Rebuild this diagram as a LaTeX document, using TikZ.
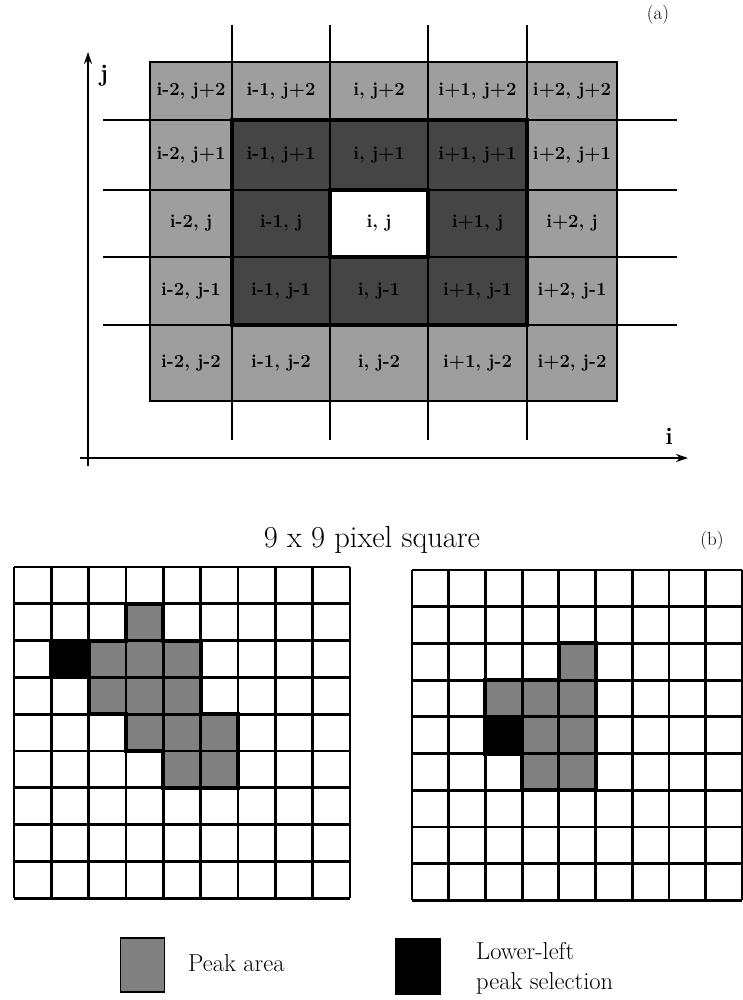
\documentclass[tikz,border=0pt]{standalone}
\usetikzlibrary{arrows.meta}
\definecolor{lightshade}{gray}{0.62}
\definecolor{darkshade}{gray}{0.27}
\definecolor{peakshade}{gray}{0.50}
\begin{document}
\begin{tikzpicture}[x=1pt,y=-1pt,
  agrid/.style={line width=2.4pt},
  bgrid/.style={line width=2.8pt},
  outline/.style={line width=4pt,line join=miter},
  axis/.style={line width=1.4pt,-{Stealth[length=12pt,width=8pt]}},
  celltext/.style={font=\fontsize{18.5}{18.5}\selectfont\bfseries,inner sep=0pt},
  title/.style={font=\fontsize{30.5}{36}\selectfont},
  tag/.style={font=\fontsize{19}{22}\selectfont},
  legendtext/.style={font=\fontsize{24.5}{30}\selectfont,align=left,inner sep=0pt},
  axlabel/.style={font=\fontsize{24}{24}\selectfont\bfseries}]
\useasboundingbox (0,0) rectangle (743,1000);
% ---------- (a) ----------
\fill[lightshade] (150,62) rectangle (617,401);
\fill[darkshade] (232,120) rectangle (527,325);
\fill[white] (330,190) rectangle (428,257);
\foreach \xx in {232,330,428,527} \draw[agrid] (\xx,25) -- (\xx,440);
\foreach \yy in {120,190,257,325} \draw[agrid] (103,\yy) -- (677,\yy);
\draw[line width=2pt] (150,62) rectangle (617,401);
\draw[line width=3.5pt] (232,120) rectangle (527,325);
\draw[line width=3.5pt] (330,190) rectangle (428,257);
\foreach \cx/\cl [count=\ci] in {191/i-2,281/i-1,379/i,477.5/i+1,572/i+2}
  \foreach \cy/\rl [count=\ri] in {91/j+2,155/j+1,223.5/j,291/j-1,363/j-2}
    \node[celltext] (l\ci\ri) at (\cx,\cy) {\cl, \rl};
\coordinate (jbase) at (88,466);
\coordinate (jtip) at (88,52);
\coordinate (ibase) at (80,458);
\coordinate (itip) at (688,458);
\draw[axis] (jbase) -- (jtip);
\draw[axis] (ibase) -- (itip);
\node[axlabel] (jlab) at (104,76) {j};
\node[axlabel] (ilab) at (669,436) {i};
\node[tag] (taga) at (658,15) {(a)};
% ---------- (b) ----------
\node[title] (ttl) at (372,540) {9 x 9 pixel square};
\node[tag] (tagb) at (712,541) {(b)};
% left grid
\begin{scope}[shift={(14,567)},x=37.33pt,y=-36.8pt]
  \fill[peakshade] (3,1) -- (4,1) -- (4,2) -- (5,2) -- (5,4) -- (6,4) -- (6,6) -- (4,6) -- (4,5) -- (3,5) -- (3,4) -- (2,4) -- (2,2) -- (3,2) -- cycle;
  \fill[black] (1,2) rectangle (2,3);
  \foreach \k in {0,...,9} {
    \draw[bgrid] (\k,0) -- (\k,9);
    \draw[bgrid] (0,\k) -- (9,\k);
  }
  \draw[outline] (3,1) -- (4,1) -- (4,2) -- (5,2) -- (5,4) -- (6,4) -- (6,6) -- (4,6) -- (4,5) -- (3,5) -- (3,4) -- (2,4) -- (2,2) -- (3,2) -- cycle;
  \draw[outline] (1,2) rectangle (2,3);
\end{scope}
% right grid
\begin{scope}[shift={(412,570)},x=36.7pt,y=-36.7pt]
  \fill[peakshade] (4,2) -- (5,2) -- (5,6) -- (3,6) -- (3,5) -- (2,5) -- (2,3) -- (4,3) -- cycle;
  \fill[black] (2,4) rectangle (3,5);
  \foreach \k in {0,...,9} {
    \draw[bgrid] (\k,0) -- (\k,9);
    \draw[bgrid] (0,\k) -- (9,\k);
  }
  \draw[outline] (4,2) -- (5,2) -- (5,6) -- (3,6) -- (3,5) -- (2,5) -- (2,3) -- (4,3) -- cycle;
  \draw[outline] (2,4) rectangle (3,5);
\end{scope}
% legend
\node[fill=peakshade,draw=black,line width=1.5pt,minimum width=44pt,minimum height=54pt,inner sep=0pt] (sw1) at (142.5,965) {};
\node[legendtext,anchor=west] (lt1) at (188,963) {Peak area};
\node[fill=black,draw=black,minimum width=45pt,minimum height=56pt,inner sep=0pt] (sw2) at (417.5,966) {};
\node[legendtext,anchor=west] (lt2) at (476,968) {Lower-left\\peak selection};
\end{tikzpicture}
\end{document}
